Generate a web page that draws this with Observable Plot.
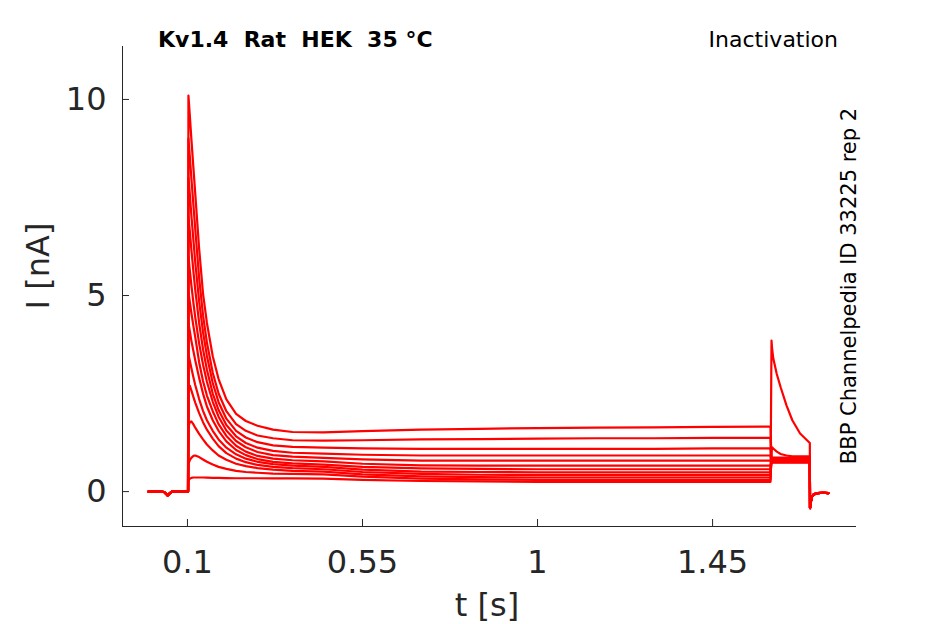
<!DOCTYPE html>
<html><head><meta charset="utf-8">
<script src="https://cdn.jsdelivr.net/npm/d3@7"></script>
<script src="https://cdn.jsdelivr.net/npm/@observablehq/plot@0.6"></script>
<style>
body{margin:0;background:#fff;}
#chart svg{font-family:"DejaVu Sans";}
</style>
</head><body><div id="chart"></div>
<script>
// axis ticks and domains
const xTicks = [0.1, 0.55, 1, 1.45];
const yTicks = [0, 5, 10];
const xDomain = [-0.067, 1.82];
const yDomain = [-0.89, 11.35];

// holding baseline before the conditioning step (shared by all sweeps)
const tPre = [0.000, 0.020, 0.040, 0.046, 0.049, 0.053, 0.060, 0.080, 0.1015];
const iPre = [0.00, 0.01, -0.01, -0.07, -0.10, -0.06, 0.00, 0.00, 0.00];

// conditioning step (12 sweeps)
const tCond = [0.1025, 0.106, 0.110, 0.115, 0.120, 0.130, 0.140, 0.150, 0.165, 0.180, 0.200, 0.225, 0.250, 0.280, 0.320, 0.370,
               0.450, 0.550, 0.700, 0.850, 1.000, 1.150, 1.300, 1.450, 1.599];
const iCond = [
  [10.10, 9.60, 9.00, 8.30, 7.60, 6.20, 5.05, 4.30, 3.45, 2.87, 2.35, 1.98, 1.80, 1.68, 1.58, 1.52, 1.51, 1.54, 1.58, 1.60, 1.62, 1.63, 1.64, 1.65, 1.66],
  [9.00, 8.55, 8.00, 7.35, 6.70, 5.45, 4.50, 3.80, 3.03, 2.50, 2.05, 1.72, 1.55, 1.43, 1.36, 1.31, 1.30, 1.31, 1.33, 1.34, 1.35, 1.36, 1.36, 1.37, 1.37],
  [8.00, 7.60, 7.05, 6.45, 5.85, 4.85, 4.07, 3.46, 2.77, 2.28, 1.86, 1.55, 1.38, 1.26, 1.18, 1.14, 1.12, 1.10, 1.09, 1.09, 1.09, 1.09, 1.09, 1.10, 1.10],
  [7.00, 6.65, 6.18, 5.65, 5.15, 4.30, 3.63, 3.11, 2.50, 2.08, 1.70, 1.41, 1.24, 1.12, 1.04, 0.99, 0.97, 0.94, 0.92, 0.92, 0.92, 0.92, 0.92, 0.92, 0.92],
  [6.00, 5.65, 5.27, 4.84, 4.45, 3.78, 3.24, 2.80, 2.29, 1.91, 1.56, 1.29, 1.13, 1.01, 0.93, 0.89, 0.86, 0.82, 0.79, 0.79, 0.79, 0.79, 0.79, 0.79, 0.79],
  [5.10, 4.84, 4.56, 4.24, 3.94, 3.30, 2.82, 2.45, 2.05, 1.72, 1.42, 1.17, 1.02, 0.91, 0.84, 0.80, 0.77, 0.71, 0.67, 0.66, 0.66, 0.66, 0.66, 0.66, 0.66],
  [4.30, 4.10, 3.85, 3.60, 3.35, 2.90, 2.50, 2.17, 1.82, 1.55, 1.28, 1.06, 0.93, 0.83, 0.76, 0.72, 0.69, 0.63, 0.59, 0.58, 0.57, 0.57, 0.57, 0.57, 0.57],
  [3.50, 3.34, 3.15, 2.93, 2.72, 2.36, 2.06, 1.82, 1.55, 1.33, 1.12, 0.95, 0.84, 0.76, 0.70, 0.66, 0.63, 0.56, 0.51, 0.50, 0.49, 0.49, 0.49, 0.49, 0.49],
  [2.60, 2.70, 2.58, 2.42, 2.27, 2.00, 1.77, 1.58, 1.35, 1.16, 0.98, 0.84, 0.75, 0.68, 0.63, 0.60, 0.57, 0.50, 0.45, 0.43, 0.42, 0.42, 0.42, 0.42, 0.42],
  [1.65, 1.77, 1.79, 1.72, 1.63, 1.47, 1.33, 1.20, 1.05, 0.92, 0.81, 0.71, 0.65, 0.60, 0.56, 0.53, 0.51, 0.44, 0.39, 0.37, 0.36, 0.36, 0.36, 0.36, 0.36],
  [0.70, 0.80, 0.86, 0.91, 0.92, 0.88, 0.82, 0.76, 0.69, 0.63, 0.58, 0.53, 0.50, 0.48, 0.46, 0.45, 0.44, 0.38, 0.33, 0.31, 0.30, 0.30, 0.30, 0.30, 0.30],
  [0.28, 0.33, 0.35, 0.36, 0.36, 0.36, 0.36, 0.355, 0.35, 0.35, 0.345, 0.34, 0.34, 0.34, 0.335, 0.335, 0.33, 0.30, 0.27, 0.26, 0.25, 0.25, 0.25, 0.25, 0.25]
];

// test step
const tTest = [1.6015, 1.603, 1.606, 1.615, 1.625, 1.640, 1.655, 1.675, 1.700];
const iTest = [
  [0.74, 0.74, 0.74, 0.74, 0.74, 0.74, 0.74, 0.74, 0.74],
  [0.75, 0.75, 0.75, 0.75, 0.75, 0.75, 0.75, 0.75, 0.75],
  [0.76, 0.76, 0.76, 0.76, 0.76, 0.76, 0.76, 0.76, 0.76],
  [0.77, 0.77, 0.77, 0.77, 0.77, 0.77, 0.77, 0.77, 0.77],
  [0.78, 0.78, 0.78, 0.78, 0.78, 0.78, 0.78, 0.78, 0.78],
  [0.79, 0.79, 0.79, 0.79, 0.79, 0.79, 0.79, 0.79, 0.79],
  [0.80, 0.80, 0.80, 0.80, 0.80, 0.80, 0.80, 0.80, 0.80],
  [0.82, 0.82, 0.82, 0.82, 0.82, 0.82, 0.82, 0.82, 0.82],
  [0.84, 0.84, 0.84, 0.84, 0.84, 0.84, 0.84, 0.84, 0.84],
  [0.87, 0.87, 0.87, 0.87, 0.87, 0.87, 0.87, 0.87, 0.87],
  [1.00, 1.13, 1.10, 1.02, 0.96, 0.92, 0.90, 0.90, 0.90],
  [3.85, 3.65, 3.40, 3.00, 2.66, 2.20, 1.82, 1.48, 1.24]
];

// return to holding (shared)
const tTail = [1.7005, 1.702, 1.705, 1.710, 1.720, 1.735, 1.7475];
const iTail = [-0.42, -0.30, -0.14, -0.07, -0.04, -0.03, -0.04];

const rows = [];
iCond.forEach((cond, k) => {
  tPre.forEach((t, j) => rows.push({trace: k, t, i: iPre[j]}));
  tCond.forEach((t, j) => rows.push({trace: k, t, i: cond[j]}));
  tTest.forEach((t, j) => rows.push({trace: k, t, i: iTest[k][j]}));
  tTail.forEach((t, j) => rows.push({trace: k, t, i: iTail[j]}));
});

const ink = "#262626";
const W = 945, H = 624, mL = 122, mR = 89, mT = 46, mB = 98, tickLen = 7;
const plot = Plot.plot({
  width: W, height: H,
  marginLeft: mL, marginRight: mR, marginTop: mT, marginBottom: mB,
  x: {domain: xDomain},
  y: {domain: yDomain},
  style: {fontFamily: "DejaVu Sans", color: ink, background: "white", overflow: "visible"},
  marks: [
    Plot.line(rows, {x: "t", y: "i", z: "trace", stroke: "#ff0000", strokeWidth: 2.2}),
    Plot.ruleX([xDomain[0]], {stroke: ink, strokeWidth: 1}),
    Plot.ruleY([yDomain[0]], {stroke: ink, strokeWidth: 1}),
    // inward tick marks (MATLAB style)
    Plot.tickX(xTicks, {x: d => d, stroke: ink, strokeWidth: 1, insetTop: H - mT - mB - tickLen}),
    Plot.tickY(yTicks, {y: d => d, stroke: ink, strokeWidth: 1, insetRight: W - mL - mR - tickLen}),
    Plot.axisX({ticks: xTicks, tickSize: 0, tickPadding: 24, tickFormat: d => String(d), fontSize: 32, label: null}),
    Plot.axisY({ticks: yTicks, tickSize: 0, tickPadding: 16, tickFormat: d => String(d), fontSize: 32, label: null})
  ]
});

const svg = d3.select(plot);
svg.append("text")
  .attr("x", 158).attr("y", 47)
  .attr("text-anchor", "start").attr("font-weight", "bold").attr("font-size", 22)
  .attr("fill", "#000").style("white-space", "pre")
  .text("Kv1.4  Rat  HEK  35 °C");
svg.append("text")
  .attr("x", 838).attr("y", 47)
  .attr("text-anchor", "end").attr("font-size", 22).attr("fill", "#000")
  .text("Inactivation");
svg.append("text")
  .attr("transform", "translate(856,286) rotate(-90)")
  .attr("text-anchor", "middle").attr("font-size", 21).attr("fill", "#000")
  .text("BBP Channelpedia ID 33225 rep 2");
svg.append("text")
  .attr("transform", "translate(49,266) rotate(-90)")
  .attr("text-anchor", "middle").attr("font-size", 32).attr("fill", ink)
  .text("I [nA]");
svg.append("text")
  .attr("x", 487).attr("y", 616)
  .attr("text-anchor", "middle").attr("font-size", 32).attr("fill", ink)
  .text("t [s]");

document.getElementById("chart").appendChild(plot);
</script>
</body></html>
